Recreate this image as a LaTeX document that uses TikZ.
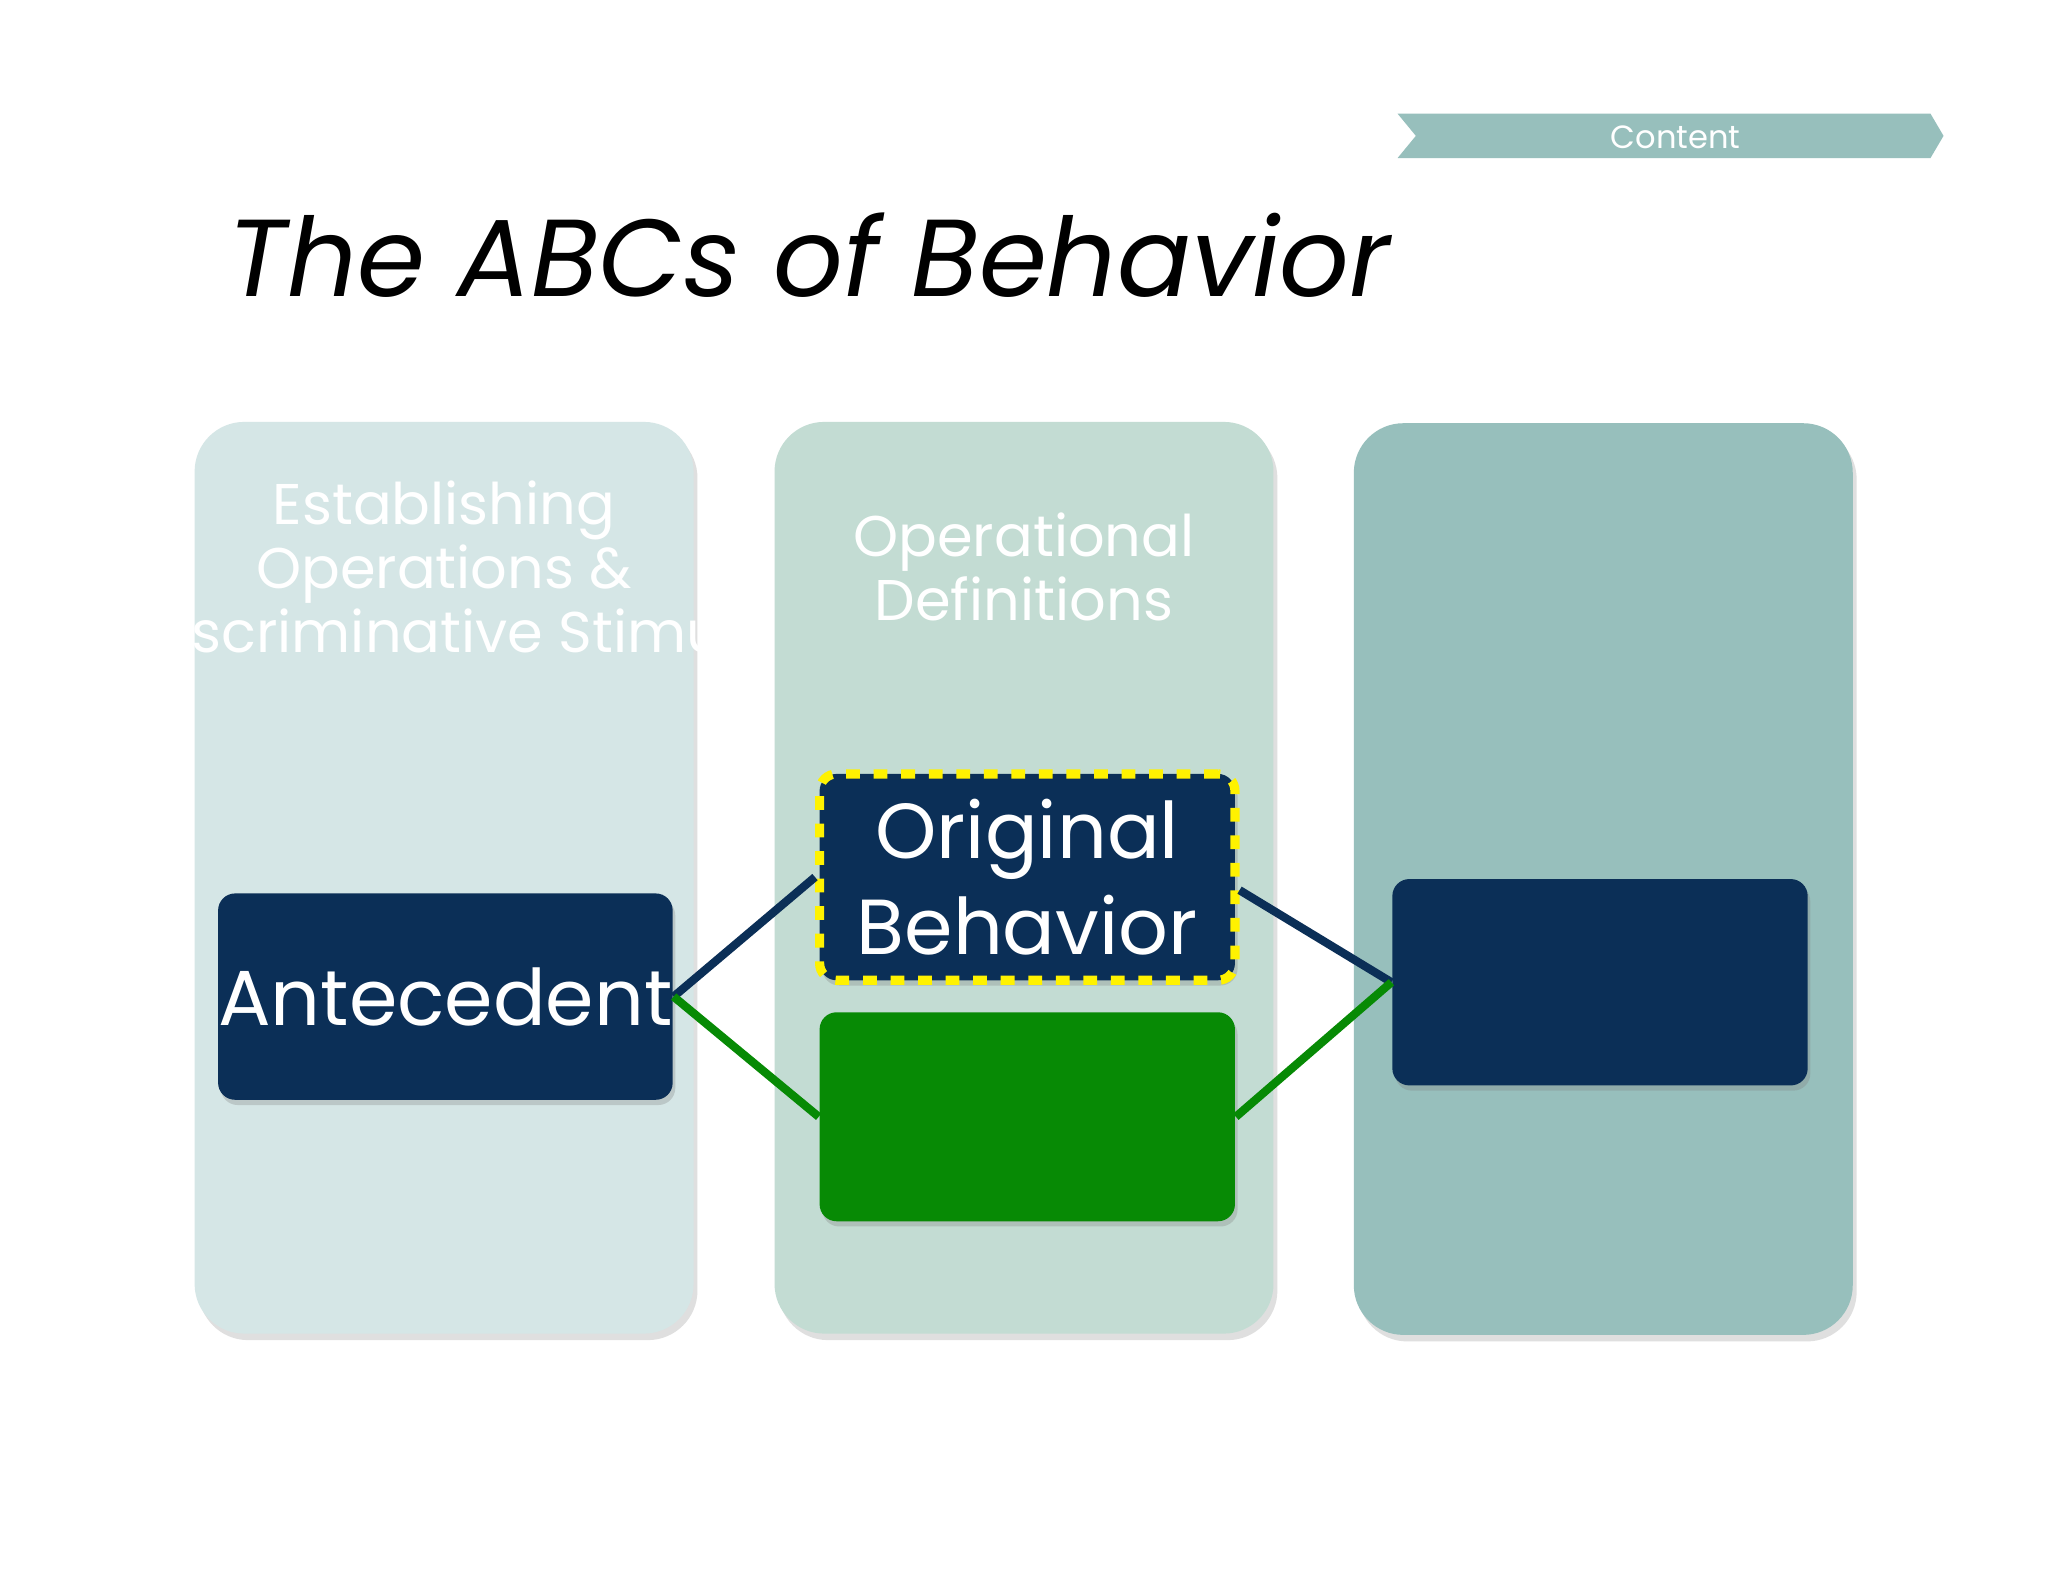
\documentclass[tikz,border=0pt]{standalone}
\usepackage{fontspec}
\setmainfont{Poppins}
\newfontfamily\titlefont{TeX Gyre Heros}
\usetikzlibrary{shadows}
\definecolor{navy}{HTML}{0B2F57}
\definecolor{grn}{HTML}{078A05}
\definecolor{colA}{HTML}{D5E6E6}
\definecolor{colB}{HTML}{C3DCD3}
\definecolor{colC}{HTML}{97BFBC}
\tikzset{
  col/.style={rounded corners=0.38cm, minimum width=3.82cm, minimum height=6.98cm, inner sep=0, drop shadow={shadow xshift=0.03cm, shadow yshift=-0.05cm, opacity=0.25}},
  boxx/.style={rounded corners=0.13cm, minimum width=3.18cm, minimum height=1.58cm, inner sep=0, text=white, align=center, font=\fontsize{17}{21}\selectfont, drop shadow={shadow xshift=0.02cm, shadow yshift=-0.04cm, opacity=0.3}},
  coltext/.style={text=white, align=center, font=\fontsize{12.5}{14}\selectfont},
  conn/.style={line width=1.8pt}
}
\begin{document}
\begin{tikzpicture}
\useasboundingbox[fill=white] (0,0) rectangle (15.68,-12.11);
% banner
\fill[colC] (10.70,-0.87) -- (14.78,-0.87) -- (14.88,-1.04) -- (14.78,-1.21) -- (10.70,-1.21) -- (10.84,-1.04) -- cycle;
\node[text=white, font=\fontsize{7}{8}\selectfont] (ban) at (12.83,-1.05) {Content};
% title
\node[anchor=west] (title) at (1.62,-1.95) {\resizebox{8.9cm}{!}{\itshape The ABCs of Behavior}};
% columns
\node[col, fill=colA] (c1) at (3.40,-6.72) {};
\node[col, fill=colB] (c2) at (7.84,-6.72) {};
\node[col, fill=colC] (c3) at (12.275,-6.73) {};
\node[coltext] (t1) at (3.40,-4.34) {Establishing\\Operations \&\\Discriminative Stimuli};
\node[coltext] (t2) at (7.84,-4.34) {Operational\\Definitions};
% boxes
\node[boxx, fill=navy] (ante) at (3.41,-7.63) {Antecedent};
\node[boxx, fill=navy, draw=yellow, dashed, dash pattern=on 3pt off 3pt, line width=2pt] (orig) at (7.865,-6.715) {Original\\Behavior};
\node[boxx, fill=grn, minimum height=1.6cm] (green) at (7.865,-8.55) {};
\node[boxx, fill=navy] (cons) at (12.25,-7.52) {};
% connectors
\draw[conn, navy] (ante.east) -- (orig.west);
\draw[conn, navy] ([yshift=-0.1cm]orig.east) -- (cons.west);
\draw[conn, grn] (ante.east) -- (green.west);
\draw[conn, grn] (green.east) -- (cons.west);
\end{tikzpicture}
\end{document}
